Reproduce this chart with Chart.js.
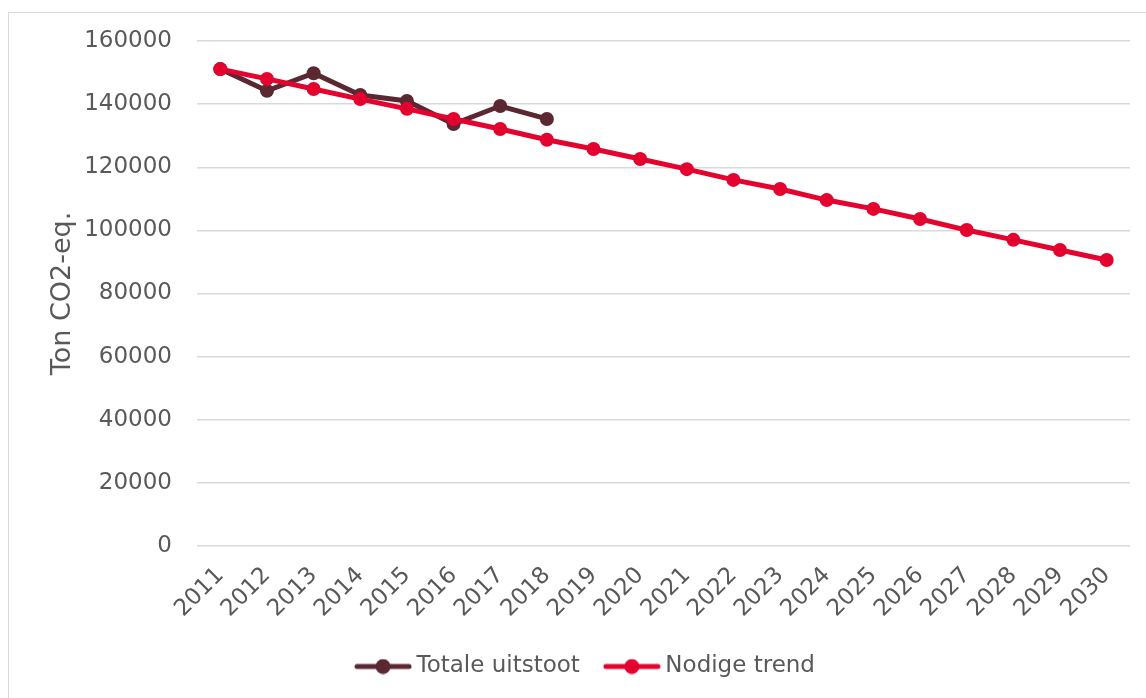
<!DOCTYPE html>
<html>
<head>
<meta charset="utf-8">
<script src="https://cdn.jsdelivr.net/npm/chart.js@4/dist/chart.umd.min.js"></script>
<style>
  html, body { margin: 0; padding: 0; background: #fff; }
  #wrap { position: relative; width: 1146px; height: 698px; overflow: hidden; }
  #frame { position: absolute; left: 8px; top: 12px; width: 1150px; height: 720px; border: 1px solid #d9d9d9; box-sizing: border-box; }
  #chart { position: absolute; left: 0; top: 0; }
</style>
</head>
<body>
<div id="wrap">
  <div id="frame"></div>
  <canvas id="chart" width="1146" height="698"></canvas>
</div>
<script>
(() => {
  'use strict';

  const years = ['2011', '2012', '2013', '2014', '2015', '2016', '2017', '2018', '2019', '2020',
    '2021', '2022', '2023', '2024', '2025', '2026', '2027', '2028', '2029', '2030'];

  // Measured emissions (only up to 2018)
  const totaleUitstoot = [151100, 144200, 149800, 142900, 141000, 133700, 139400, 135300];

  // Required trend towards 2030
  const nodigeTrend = [151100, 148000, 144800, 141600, 138500, 135300, 132100, 128700, 125800, 122600,
    119400, 116000, 113100, 109600, 106800, 103600, 100100, 97000, 93800, 90600];

  const yTicks = [0, 20000, 40000, 60000, 80000, 100000, 120000, 140000, 160000];

  const seriesNames = ['Totale uitstoot', 'Nodige trend'];
  const seriesColors = ['#5b2731', '#e4032e'];

  const textColor = '#595959';
  const fontFamily = '"DejaVu Sans", Verdana, sans-serif';

  // Legend marker: short line with a dot in the middle
  function legendMarker(color) {
    const c = document.createElement('canvas');
    c.width = 58;
    c.height = 16;
    const g = c.getContext('2d');
    g.strokeStyle = color;
    g.lineWidth = 5;
    g.lineCap = 'round';
    g.beginPath();
    g.moveTo(3, 8);
    g.lineTo(55, 8);
    g.stroke();
    g.fillStyle = color;
    g.beginPath();
    g.arc(29, 8, 7.5, 0, Math.PI * 2);
    g.fill();
    return c;
  }

  const ctx = document.getElementById('chart').getContext('2d');

  new Chart(ctx, {
    type: 'line',
    data: {
      labels: years,
      datasets: [
        {
          label: seriesNames[0],
          data: totaleUitstoot,
          borderColor: seriesColors[0],
          backgroundColor: seriesColors[0],
          borderWidth: 5,
          pointRadius: 7,
          pointBorderWidth: 0,
          pointStyle: 'circle',
          tension: 0,
          order: 1,
        },
        {
          label: seriesNames[1],
          data: nodigeTrend,
          borderColor: seriesColors[1],
          backgroundColor: seriesColors[1],
          borderWidth: 5,
          pointRadius: 7,
          pointBorderWidth: 0,
          pointStyle: 'circle',
          tension: 0,
          order: 0,
        },
      ],
    },
    options: {
      responsive: false,
      animation: false,
      devicePixelRatio: 1,
      layout: { padding: { left: 46, right: 16, top: 41, bottom: 10 } },
      plugins: {
        tooltip: { enabled: false },
        legend: {
          position: 'bottom',
          labels: {
            color: textColor,
            font: { family: fontFamily, size: 23 },
            usePointStyle: true,
            pointStyleWidth: 44,
            padding: 30,
            sort: (a, b) => a.datasetIndex - b.datasetIndex,
            generateLabels: (chart) => chart.data.datasets.map((ds, i) => ({
              text: ds.label,
              datasetIndex: i,
              fontColor: textColor,
              pointStyle: legendMarker(ds.borderColor),
              lineWidth: 0,
              strokeStyle: ds.borderColor,
              fillStyle: ds.borderColor,
              hidden: false,
            })),
          },
        },
      },
      scales: {
        x: {
          offset: true,
          grid: { display: false },
          border: { display: false },
          ticks: {
            color: textColor,
            font: { family: fontFamily, size: 23 },
            minRotation: 45,
            maxRotation: 45,
            padding: 8,
            autoSkip: false,
          },
          afterFit: (scale) => { scale.height = 79; },
        },
        y: {
          min: 0,
          max: 160000,
          afterBuildTicks: (scale) => { scale.ticks = yTicks.map(v => ({ value: v })); },
          grid: { color: '#d9d9d9', lineWidth: 1.5, drawTicks: false },
          border: { display: false },
          ticks: {
            color: textColor,
            font: { family: fontFamily, size: 23 },
            padding: 25,
            callback: (v) => String(v),
          },
          title: {
            display: true,
            text: 'Ton CO2-eq.',
            color: textColor,
            font: { family: fontFamily, size: 27 },
            padding: 1,
          },
          afterFit: (scale) => { scale.width = 151; },
        },
      },
    },
  });
})();
</script>
</body>
</html>
